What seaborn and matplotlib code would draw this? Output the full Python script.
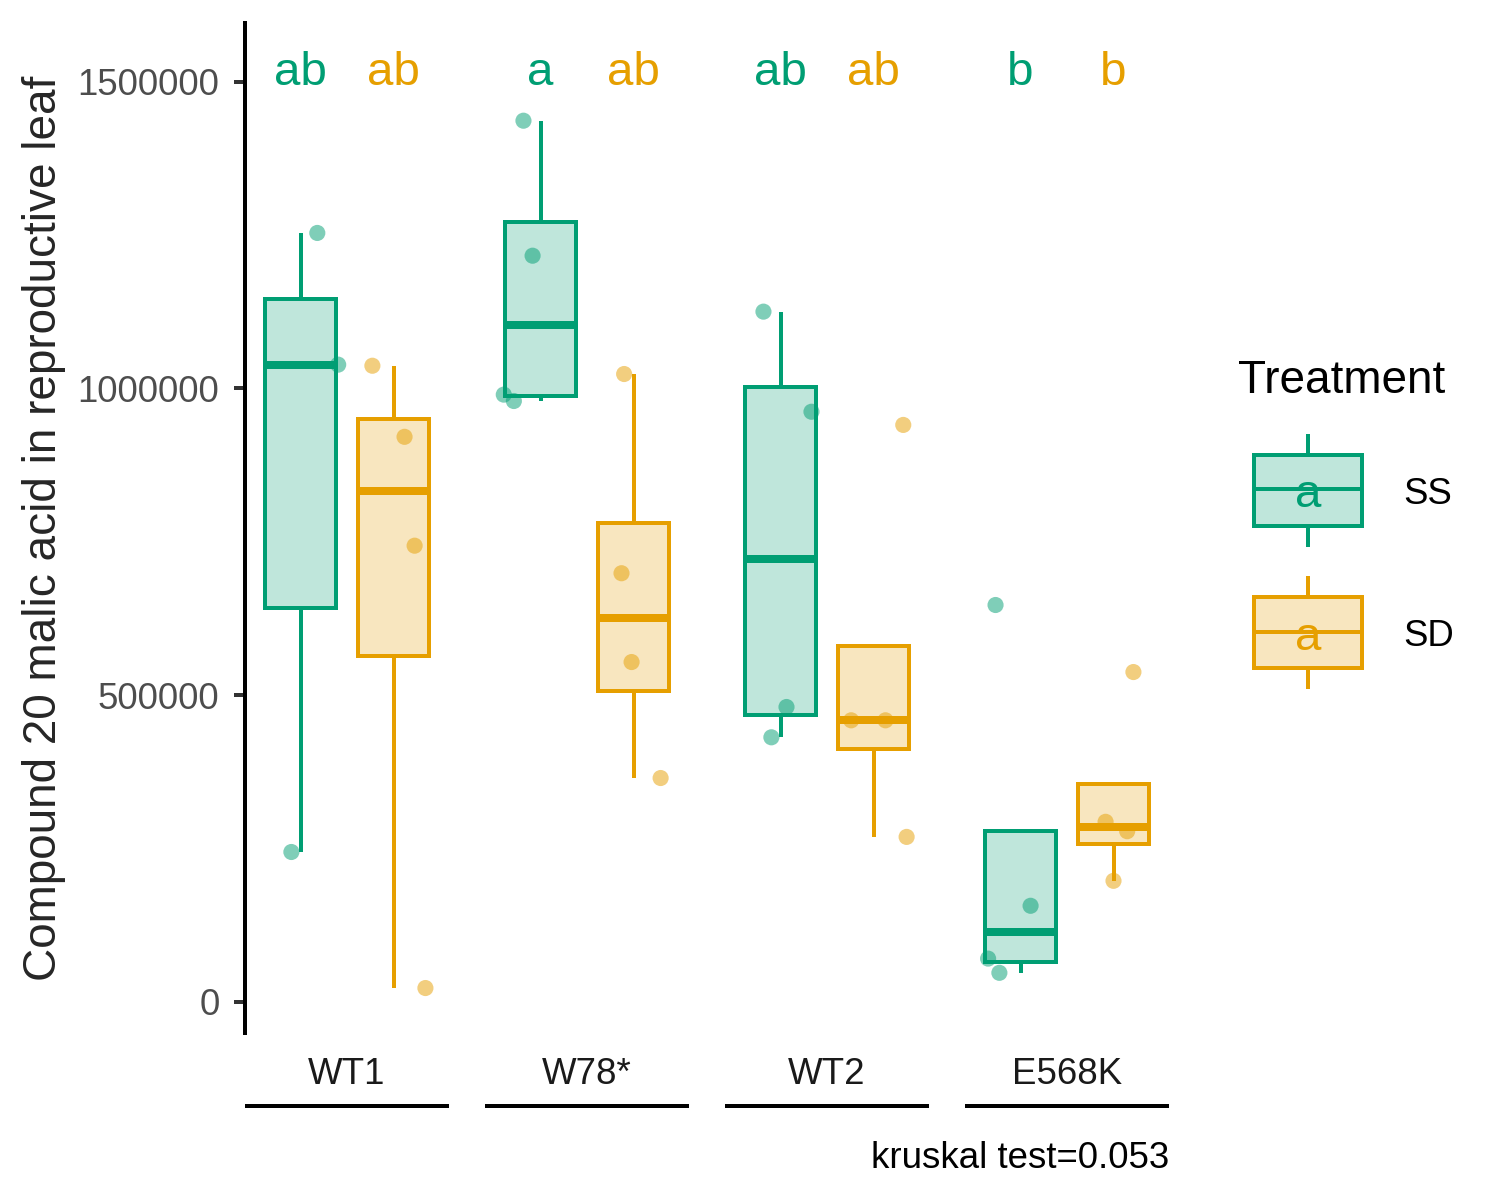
import numpy as np
import pandas as pd
import matplotlib
matplotlib.use("Agg")
import matplotlib.pyplot as plt
import matplotlib.colors as mcolors
from matplotlib.patches import Rectangle
from matplotlib.ticker import StrMethodFormatter
import seaborn as sns

# --- data ---
genotypes = ["WT1", "W78*", "WT2", "E568K"]
treatments = ["SS", "SD"]

ss_values = [
    [1253400, 1038700, 244100],
    [1436400, 1216300, 989800, 979400],
    [1125100, 961900, 480500, 431100],
    [646800, 156400, 70300, 47100],
]
sd_values = [
    [1036900, 921000, 743500, 22300],
    [1023400, 698600, 553800, 364700],
    [940400, 458800, 458800, 268700],
    [537500, 293300, 278000, 197100],
]
# horizontal jitter of each point (category units), as seen in the picture
ss_jitter = [
    [0.070, 0.157, -0.038],
    [-0.071, -0.033, -0.153, -0.111],
    [-0.071, 0.129, 0.025, -0.038],
    [-0.104, 0.042, -0.135, -0.088],
]
sd_jitter = [
    [-0.088, 0.046, 0.088, 0.133],
    [-0.039, -0.050, -0.008, 0.113],
    [0.124, -0.093, 0.050, 0.138],
    [0.083, -0.033, 0.057, 0.0],
]
ss_letters = ["ab", "a", "ab", "b"]
sd_letters = ["ab", "ab", "ab", "b"]
kruskal_p = "0.053"

colors = {"SS": "#009E73", "SD": "#E69F00"}

rows = []
for t, vals, jit in [("SS", ss_values, ss_jitter), ("SD", sd_values, sd_jitter)]:
    for gi, g in enumerate(genotypes):
        for v, j in zip(vals[gi], jit[gi]):
            rows.append({"gidx": gi, "Genotype": g, "Treatment": t, "value": v, "jitter": j})
df = pd.DataFrame(rows)

sns.set_style("ticks")
plt.rcParams["font.family"] = ["Liberation Sans", "DejaVu Sans"]

LW = 0.96
dodge_w = 0.775
offsets = {"SS": -dodge_w / 4, "SD": dodge_w / 4}

fig = plt.figure(figsize=(5, 4), dpi=300)
ax = fig.add_axes([245 / 1500, 1 - 1033.3 / 1200, (1169 - 245) / 1500, (1033.3 - 22.7) / 1200])

sns.boxplot(
    data=df, x="gidx", y="value", hue="Treatment", hue_order=treatments,
    palette=colors, native_scale=True, width=dodge_w, gap=0.24,
    showcaps=False, showfliers=False, saturation=1, linewidth=LW,
    legend=False, ax=ax,
)
for cont, t in zip(ax.containers, treatments):
    c = colors[t]
    for b in cont.boxes:
        b.set_facecolor(mcolors.to_rgba(c, 0.25))
        b.set_edgecolor(c)
        b.set_linewidth(LW)
    for ln in cont.whiskers:
        ln.set_color(c)
        ln.set_linewidth(LW)
        ln.set_solid_capstyle("butt")
    for ln in cont.medians:
        ln.set_color(c)
        ln.set_linewidth(2 * LW)
        ln.set_solid_capstyle("butt")

# jittered points
df["xpos"] = df["gidx"] + df["Treatment"].map(offsets) + df["jitter"]
sns.scatterplot(
    data=df, x="xpos", y="value", hue="Treatment", hue_order=treatments,
    palette=colors, alpha=0.5, s=15, linewidth=0, legend=False, ax=ax, zorder=3,
)

# significance letters
letter_y = 1494600
for gi in range(len(genotypes)):
    for t, letters in [("SS", ss_letters), ("SD", sd_letters)]:
        ax.text(gi + offsets[t], letter_y, letters[gi], ha="center", va="baseline",
                fontsize=11.4, color=colors[t])

ax.set_xlim(-0.425, 3.425)
ax.set_ylim(-51500, 1596200)
ax.set_yticks([0, 500000, 1000000, 1500000])
ax.yaxis.set_major_formatter(StrMethodFormatter("{x:.0f}"))
ax.set_xticks(range(len(genotypes)))
ax.set_xticklabels(genotypes)
ax.set_xlabel("")
ax.set_ylabel("Compound 20 malic acid in reproductive leaf", fontsize=11, labelpad=2.8)

for side in ["top", "right", "bottom"]:
    ax.spines[side].set_visible(False)
ax.spines["left"].set_linewidth(LW)
ax.spines["left"].set_color("black")
ax.tick_params(axis="y", length=2.64, width=LW, color="#333333",
               labelsize=8.8, labelcolor="#4D4D4D", pad=3.5)
ax.tick_params(axis="x", length=0, labelsize=8.8, labelcolor="#1A1A1A", pad=5.8)

# lines under the genotype labels
for gi in range(len(genotypes)):
    ax.plot([gi - 0.424, gi + 0.424], [-0.072, -0.072], transform=ax.get_xaxis_transform(),
            color="black", lw=LW, clip_on=False, solid_capstyle="butt")

fig.text(1169 / 1500, 1 - 1168 / 1200, f"kruskal test={kruskal_p}",
         ha="right", va="baseline", fontsize=8.8, color="black")

# legend drawn in pixel space
leg = fig.add_axes([0, 0, 1, 1], facecolor="none")
leg.set_xlim(0, 1500)
leg.set_ylim(1200, 0)
leg.axis("off")
leg.text(1238, 393, "Treatment", fontsize=11, ha="left", va="baseline", color="black")
for t, cy in [("SS", 490.4), ("SD", 632.5)]:
    c = colors[t]
    leg.add_patch(Rectangle((1254, cy - 35.3), 108, 70.6, facecolor=mcolors.to_rgba(c, 0.25),
                            edgecolor=c, lw=LW))
    leg.plot([1308, 1308], [cy - 56.5, cy - 35.3], color=c, lw=LW, solid_capstyle="butt")
    leg.plot([1308, 1308], [cy + 35.3, cy + 56.5], color=c, lw=LW, solid_capstyle="butt")
    leg.plot([1254, 1362], [cy - 1, cy - 1], color=c, lw=LW)
    leg.text(1308, cy + 17, "a", fontsize=11.4, ha="center", va="baseline", color=c)
    leg.text(1403, cy + 14, t, fontsize=8.8, ha="left", va="baseline", color="black")

fig.savefig("out.png", dpi=300)
